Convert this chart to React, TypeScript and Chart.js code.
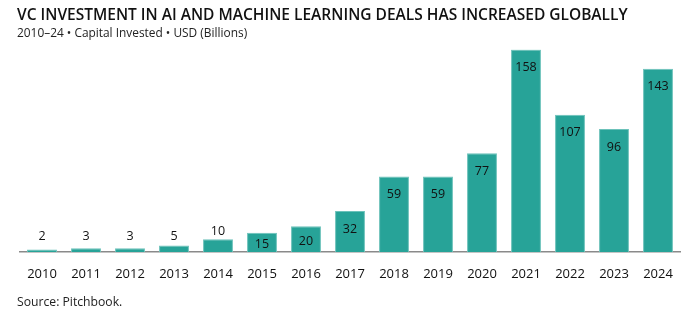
import React, { useEffect, useRef } from "react";
import { Chart, registerables } from "chart.js";

Chart.register(...registerables);

const years = ["2010", "2011", "2012", "2013", "2014", "2015", "2016", "2017", "2018", "2019", "2020", "2021", "2022", "2023", "2024"];
const invested = [2, 3, 3, 5, 10, 15, 20, 32, 59, 59, 77, 158, 107, 96, 143];
const titleText = "VC INVESTMENT IN AI AND MACHINE LEARNING DEALS HAS INCREASED GLOBALLY";
const subtitleText = "2010\u201324 \u2022 Capital Invested \u2022 USD (Billions)";
const sourceText = "Source: Pitchbook.";

const FONT = "'Open Sans', 'Noto Sans', sans-serif";
const TEAL = "#27a398";

const textPlugin = {
  id: "textPlugin",
  afterDraw(chart: any) {
    const ctx = chart.ctx;
    ctx.save();
    ctx.fillStyle = "#111";
    ctx.textAlign = "left";
    ctx.textBaseline = "middle";
    ctx.font = `600 15.5px ${FONT}`;
    ctx.fillText(titleText, 17, 16);
    ctx.font = `400 11.9px ${FONT}`;
    ctx.fillStyle = "#222";
    ctx.fillText(subtitleText, 17, 34);
    ctx.font = `400 12.2px ${FONT}`;
    ctx.fillText(sourceText, 17, 303);

    // value labels
    const meta = chart.getDatasetMeta(0);
    const base = chart.scales.y.getPixelForValue(0);
    ctx.font = `400 12.5px ${FONT}`;
    ctx.textAlign = "center";
    ctx.fillStyle = "#111";
    meta.data.forEach((bar: any, i: number) => {
      const v = invested[i];
      const top = bar.y;
      let y: number;
      if (v >= 15) {
        y = Math.min(top + 18, (top + base) / 2 + 2);
      } else {
        y = Math.min(236, top - 8);
      }
      ctx.fillText(String(v), bar.x, y);
    });
    ctx.restore();
  },
};

export default function App() {
  const ref = useRef<HTMLCanvasElement | null>(null);
  useEffect(() => {
    document.body.style.margin = "0";
    const chart = new Chart(ref.current!, {
      type: "bar",
      data: {
        labels: years,
        datasets: [
          {
            data: invested,
            backgroundColor: TEAL,
            borderColor: "#6cc2ba",
            borderWidth: 1,
            barPercentage: 0.68,
            categoryPercentage: 1,
          },
        ],
      },
      options: {
        responsive: false,
        animation: false,
        layout: { padding: { left: 20, right: 18, top: 49.5, bottom: 0 } },
        plugins: { legend: { display: false }, tooltip: { enabled: false }, title: { display: false } },
        scales: {
          x: {
            grid: { display: false, drawTicks: false },
            border: { display: true, color: "#8a8a8a", width: 1.5 },
            ticks: { color: "#111", font: { family: FONT, size: 13 }, padding: 14, maxRotation: 0 },
            afterFit: (s: any) => {
              s.height = 72;
            },
          },
          y: { display: false, min: 0, max: 158 },
        },
      },
      plugins: [textPlugin],
    });
    return () => chart.destroy();
  }, []);
  return <canvas ref={ref} width={698} height={324} style={{ display: "block" }} />;
}
